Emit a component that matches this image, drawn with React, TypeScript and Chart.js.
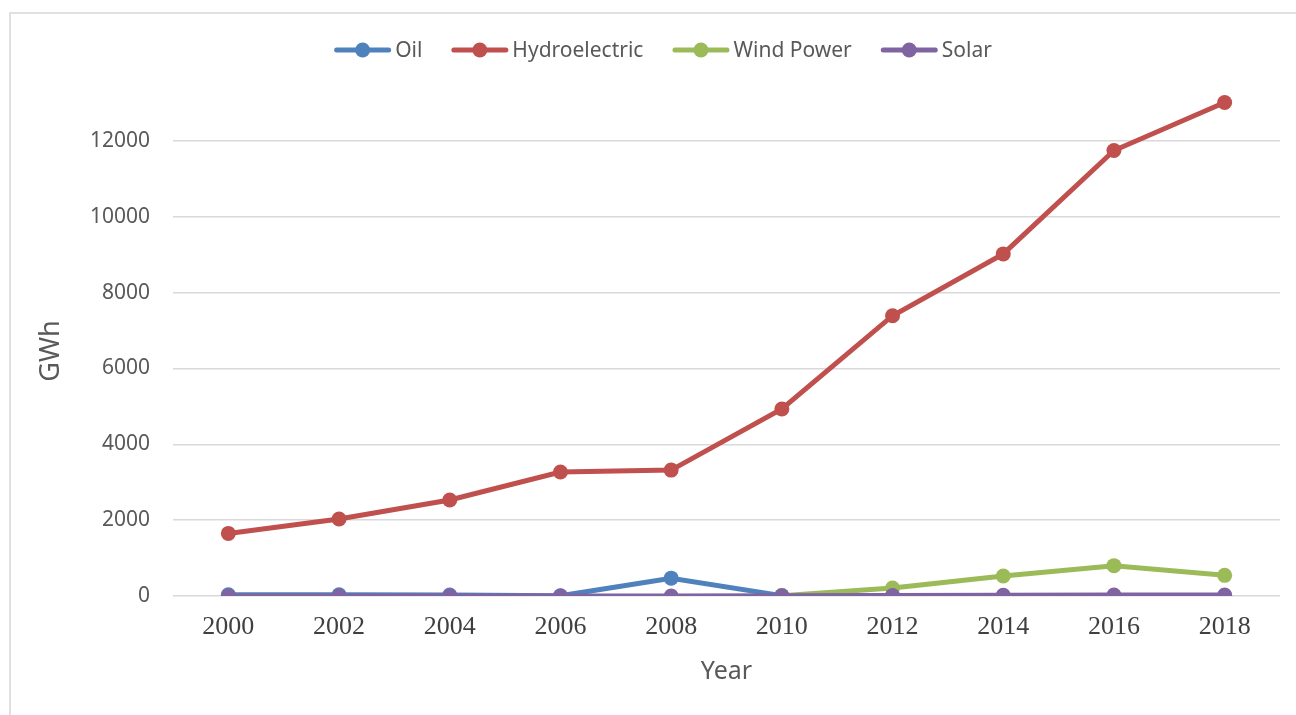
import React, { useEffect, useRef } from "react";
import { Chart, registerables } from "chart.js";

Chart.register(...registerables);

const years = ["2000", "2002", "2004", "2006", "2008", "2010", "2012", "2014", "2016", "2018"];
const oil = [30, 30, 25, 5, 470, 10, 0, 0, 0, 0];
const hydro = [1650, 2030, 2530, 3270, 3320, 4930, 7390, 9020, 11745, 13010];
const wind = [null, null, null, null, null, 10, 210, 527, 800, 545];
const solar = [0, 0, 0, 0, 0, 5, 10, 20, 25, 26];

const seriesNames = ["Oil", "Hydroelectric", "Wind Power", "Solar"];
const seriesColors = ["#4F81BD", "#C0504D", "#9BBB59", "#8064A2"];
const yTicks = [0, 2000, 4000, 6000, 8000, 10000, 12000];

const SANS = "'Noto Sans', 'Open Sans', sans-serif";
const SERIF = "'Liberation Serif', 'DejaVu Serif', serif";

const legendPlugin = {
  id: "customLegend",
  afterDraw(chart: any) {
    const ctx = chart.ctx;
    ctx.save();
    ctx.font = `21px ${SANS}`;
    const symW = 57;
    const gap = 4;
    const itemGap = 29;
    const widths = seriesNames.map((n) => ctx.measureText(n).width);
    const total = widths.reduce((a, w) => a + symW + gap + w, 0) + itemGap * (seriesNames.length - 1);
    let x = 663 - total / 2;
    const y = 50;
    seriesNames.forEach((name, i) => {
      ctx.strokeStyle = seriesColors[i];
      ctx.fillStyle = seriesColors[i];
      ctx.lineWidth = 5;
      ctx.lineCap = "round";
      ctx.beginPath();
      ctx.moveTo(x + 2.5, y);
      ctx.lineTo(x + symW - 2.5, y);
      ctx.stroke();
      ctx.beginPath();
      ctx.arc(x + symW / 2, y, 7.5, 0, Math.PI * 2);
      ctx.fill();
      ctx.fillStyle = "#595959";
      ctx.textBaseline = "middle";
      ctx.textAlign = "left";
      ctx.fillText(name, x + symW + gap, y + 1);
      x += symW + gap + widths[i] + itemGap;
    });
    ctx.restore();
  },
};

const yTitlePlugin = {
  id: "yTitle",
  afterDraw(chart: any) {
    const ctx = chart.ctx;
    ctx.save();
    ctx.translate(51, 351);
    ctx.rotate(-Math.PI / 2);
    ctx.font = `27px ${SANS}`;
    ctx.fillStyle = "#595959";
    ctx.textAlign = "center";
    ctx.textBaseline = "middle";
    ctx.fillText("GWh", 0, 0);
    ctx.restore();
  },
};

export default function App() {
  const ref = useRef<HTMLCanvasElement>(null);
  useEffect(() => {
    if (!ref.current) return;
    const data = [oil, hydro, wind, solar];
    const orders = [3, 2, 1, 0];
    const chart = new Chart(ref.current, {
      type: "line",
      data: {
        labels: years,
        datasets: seriesNames.map((name, i) => ({
          label: name,
          data: data[i] as any,
          borderColor: seriesColors[i],
          backgroundColor: seriesColors[i],
          pointBackgroundColor: seriesColors[i],
          pointBorderWidth: 0,
          pointRadius: 7.5,
          pointHoverRadius: 7.5,
          borderWidth: 5,
          tension: 0,
          fill: false,
          order: orders[i],
          spanGaps: false,
        })),
      },
      options: {
        responsive: false,
        animation: false,
        devicePixelRatio: 1,
        layout: { padding: { left: 10, right: 16, top: 65, bottom: 10 } },
        plugins: {
          legend: { display: false },
          tooltip: { enabled: false },
          title: { display: false },
        },
        scales: {
          x: {
            type: "category",
            offset: true,
            grid: { display: false, drawTicks: false },
            border: { display: false },
            ticks: {
              color: "#404040",
              font: { family: SERIF, size: 26 },
              padding: 16,
              maxRotation: 0,
              autoSkip: false,
            },
            title: {
              display: true,
              text: "Year",
              color: "#595959",
              font: { family: SANS, size: 25 },
              padding: { top: 0, bottom: 18 },
            },
            afterFit(scale: any) {
              scale.height = 109;
            },
          },
          y: {
            min: 0,
            max: 14000,
            afterBuildTicks(scale: any) {
              scale.ticks = [...yTicks, 14000].map((v) => ({ value: v }));
            },
            grid: {
              color: (c: any) => (c.tick && c.tick.value === 14000 ? "rgba(0,0,0,0)" : "#d9d9d9"),
              lineWidth: 1.5,
              drawTicks: false,
            },
            border: { display: false },
            ticks: {
              color: "#595959",
              font: { family: SANS, size: 21 },
              padding: 23,
              callback: (v: any) => (v === 14000 ? "" : String(v)),
            },
            afterFit(scale: any) {
              scale.width = 163;
            },
          },
        },
      },
      plugins: [legendPlugin, yTitlePlugin],
    });
    return () => chart.destroy();
  }, []);

  return (
    <>
      <div
        style={{
          position: "fixed",
          left: 9,
          top: 12,
          width: 1400,
          height: 800,
          borderLeft: "2px solid #e0e0e0",
          borderTop: "2px solid #e0e0e0",
          boxSizing: "border-box",
        }}
      />
      <canvas
        ref={ref}
        width={1296}
        height={715}
        style={{ position: "fixed", left: 0, top: 0, width: 1296, height: 715 }}
      />
    </>
  );
}
